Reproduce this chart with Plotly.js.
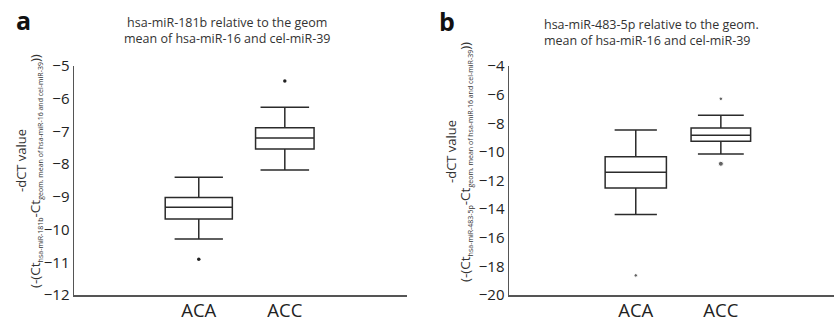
<!DOCTYPE html>
<html><head><meta charset="utf-8">
<script src="https://cdn.plot.ly/plotly-3.0.1.min.js"></script>
<style>html,body{margin:0;padding:0;background:#fff}#chart{width:834px;height:321px}</style>
</head><body><div id="chart"></div>
<script>
const categories = ['ACA', 'ACC'];
const catPos = [1, 2];

// Panel a: hsa-miR-181b
const aLower = [-10.29, -8.18];
const aQ1 = [-9.68, -7.54];
const aMedian = [-9.32, -7.20];
const aQ3 = [-9.02, -6.89];
const aUpper = [-8.40, -6.26];
const aOutX = ['ACA', 'ACC'];
const aOutY = [-10.91, -5.46];

// Panel b: hsa-miR-483-5p
const bLower = [-14.37, -10.15];
const bQ1 = [-12.52, -9.25];
const bMedian = [-11.43, -8.83];
const bQ3 = [-10.34, -8.33];
const bUpper = [-8.47, -7.44];
const bOutX = ['ACA', 'ACC', 'ACC'];
const bOutY = [-18.63, -6.29, -10.83];

const yTicksA = [-12, -11, -10, -9, -8, -7, -6, -5];
const yTicksB = [-20, -18, -16, -14, -12, -10, -8, -6, -4];

const lineCol = '#2b2b2b';
const FONT = 'Open Sans, sans-serif';
const W = 834, H = 321;
const px = v => v / W, py = v => 1 - v / H;

const boxWidthsA = [0.78, 0.68], whiskA = [0.72, 0.83];
const boxWidthsB = [0.72, 0.70], whiskB = [0.69, 0.77];

const traces = [];
function addBoxes(xa, ya, lo, q1, med, q3, up, widths, whisk) {
  categories.forEach((c, i) => {
    traces.push({
      type: 'box', xaxis: xa, yaxis: ya, name: c,
      x: [catPos[i]], q1: [q1[i]], median: [med[i]], q3: [q3[i]],
      lowerfence: [lo[i]], upperfence: [up[i]],
      width: widths[i], whiskerwidth: whisk[i],
      fillcolor: '#ffffff', line: {color: lineCol, width: 1.5},
      boxpoints: false, showlegend: false, hoverinfo: 'skip'
    });
  });
}
addBoxes('x', 'y', aLower, aQ1, aMedian, aQ3, aUpper, boxWidthsA, whiskA);
addBoxes('x2', 'y2', bLower, bQ1, bMedian, bQ3, bUpper, boxWidthsB, whiskB);

traces.push({type: 'scatter', mode: 'markers', xaxis: 'x', yaxis: 'y',
  x: aOutX.map(c => catPos[categories.indexOf(c)]), y: aOutY,
  marker: {color: '#222', size: 3.5}, showlegend: false, hoverinfo: 'skip'});
traces.push({type: 'scatter', mode: 'markers', xaxis: 'x2', yaxis: 'y2',
  x: bOutX.map(c => catPos[categories.indexOf(c)]), y: bOutY,
  marker: {color: '#222', size: [3.5, 3.5, 5]}, showlegend: false, hoverinfo: 'skip'});

const xCommon = {type: 'linear', showline: true, linecolor: '#555', linewidth: 1.5,
  showgrid: false, zeroline: false, ticks: '', tickvals: catPos, ticktext: categories,
  ticklabelstandoff: -2,
  tickfont: {family: FONT, size: 18.5, color: '#222'}, fixedrange: true};
const yCommon = {type: 'linear', showline: true, linecolor: '#555', linewidth: 1.5,
  showgrid: false, zeroline: false, ticks: '', ticklen: 0,
  tickfont: {family: FONT, size: 15, color: '#222'}, fixedrange: true};

const sub = t => '<sub><span style="font-size:7px">' + t + '</span></sub>';
function ann(text, x, y, size, opts) {
  return Object.assign({text: text, x: px(x), y: py(y), xref: 'paper', yref: 'paper',
    xanchor: 'center', yanchor: 'middle', showarrow: false,
    font: {family: FONT, size: size, color: '#333'}}, opts || {});
}
const layout = {
  width: W, height: H, margin: {l: 0, r: 0, t: 0, b: 0},
  paper_bgcolor: '#fff', plot_bgcolor: '#fff', showlegend: false,
  xaxis: Object.assign({}, xCommon, {domain: [px(74), px(407)], range: [-0.45, 3.42], anchor: 'y'}),
  yaxis: Object.assign({}, yCommon, {domain: [1 - 295 / H, 1 - 66 / H], range: [-12, -5], tickvals: yTicksA, anchor: 'x'}),
  xaxis2: Object.assign({}, xCommon, {domain: [px(509), 1], range: [-0.49, 3.33], anchor: 'y2'}),
  yaxis2: Object.assign({}, yCommon, {domain: [1 - 295 / H, 1 - 66 / H], range: [-20, -4], tickvals: yTicksB, anchor: 'x2'}),
  annotations: [
    ann('<b>a</b>', 23, 20, 25, {font: {family: FONT, size: 25, color: '#111'}}),
    ann('<b>b</b>', 447, 21, 25, {font: {family: FONT, size: 25, color: '#111'}}),
    ann('hsa-miR-181b relative to the geom<br>mean of hsa-miR-16 and cel-miR-39', 227, 30, 12.5, {align: 'center'}),
    ann('hsa-miR-483-5p relative to the geom.<br>mean of hsa-miR-16 and cel-miR-39', 542, 32, 12.5, {align: 'left', xanchor: 'left'}),
    ann('-dCT value', 21, 161, 13, {textangle: -90}),
    ann('(-(Ct' + sub('hsa-miR-181b') + '-Ct' + sub('geom. mean of hsa-miR-16 and cel-miR-39') + '))', 36, 171, 13.5, {textangle: -90}),
    ann('-dCT value', 451, 152, 13, {textangle: -90}),
    ann('(-(Ct' + sub('hsa-miR-483-5p') + '-Ct' + sub('geom. mean of hsa-miR-16 and cel-miR-39') + '))', 466, 162, 13.5, {textangle: -90})
  ]
};
Plotly.newPlot('chart', traces, layout, {staticPlot: true, displayModeBar: false});
</script></body></html>
